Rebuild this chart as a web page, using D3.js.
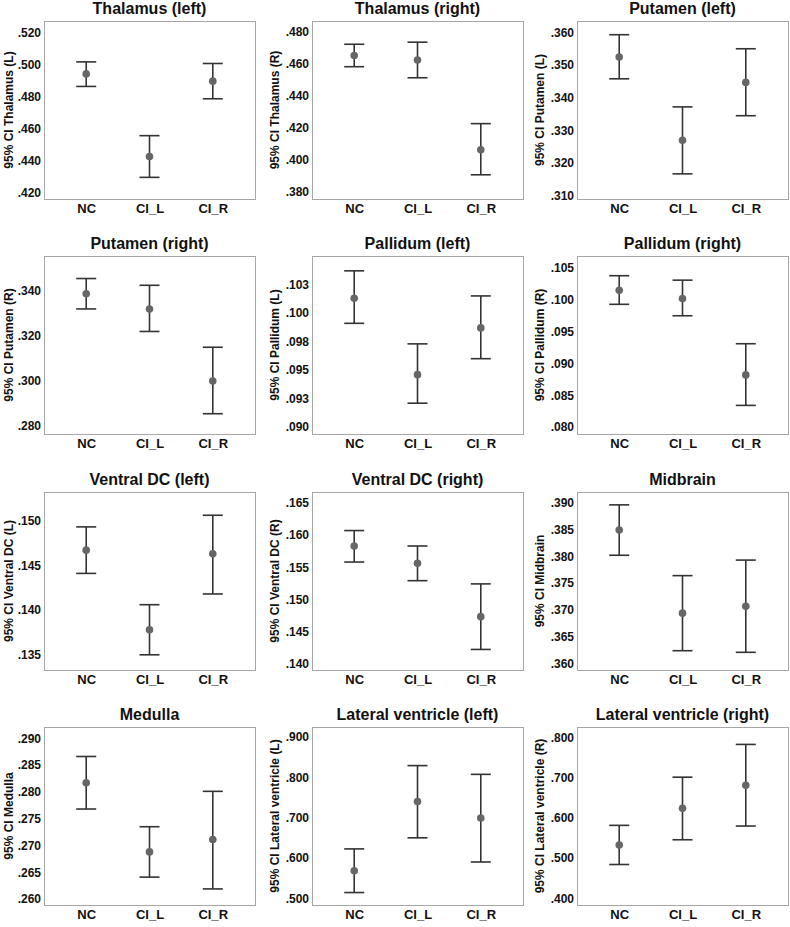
<!DOCTYPE html>
<html>
<head>
<meta charset="utf-8">
<script src="https://cdn.jsdelivr.net/npm/d3@7"></script>
<style>
  html, body { margin: 0; padding: 0; background: #fff; }
  svg { display: block; font-family: "Liberation Sans", Arial, sans-serif; }
  .tick text { font-weight: bold; fill: #111; }
</style>
</head>
<body>
<svg id="chart" width="790" height="927"></svg>
<script>
const categories = ["NC", "CI_L", "CI_R"];

const titles = [
  "Thalamus (left)", "Thalamus (right)", "Putamen (left)",
  "Putamen (right)", "Pallidum (left)", "Pallidum (right)",
  "Ventral DC (left)", "Ventral DC (right)", "Midbrain",
  "Medulla", "Lateral ventricle (left)", "Lateral ventricle (right)"
];

const yLabels = [
  "95% CI Thalamus (L)", "95% CI Thalamus (R)", "95% CI Putamen (L)",
  "95% CI Putamen (R)", "95% CI Pallidum (L)", "95% CI Pallidum (R)",
  "95% CI Ventral DC (L)", "95% CI Ventral DC (R)", "95% CI Midbrain",
  "95% CI Medulla", "95% CI Lateral ventricle (L)", "95% CI Lateral ventricle (R)"
];

// means per panel, for NC, CI_L, CI_R
const means = [
  [0.4940, 0.4425, 0.4895],
  [0.4650, 0.4622, 0.4062],
  [0.3525, 0.3270, 0.3447],
  [0.3387, 0.3320, 0.3000],
  [0.1013, 0.0946, 0.0987],
  [0.1015, 0.1002, 0.0882],
  [0.1467, 0.1378, 0.1463],
  [0.1583, 0.1556, 0.1473],
  [0.3849, 0.3694, 0.3707],
  [0.2817, 0.2688, 0.2711],
  [0.5683, 0.7400, 0.6992],
  [0.5325, 0.6242, 0.6817]
];

const lower = [
  [0.4862, 0.4295, 0.4785],
  [0.4580, 0.4511, 0.3906],
  [0.3458, 0.3167, 0.3345],
  [0.3320, 0.3220, 0.2855],
  [0.0991, 0.0921, 0.0960],
  [0.0993, 0.0975, 0.0834],
  [0.1441, 0.1350, 0.1418],
  [0.1558, 0.1529, 0.1422],
  [0.3802, 0.3624, 0.3621],
  [0.2768, 0.2641, 0.2619],
  [0.5142, 0.6500, 0.5900],
  [0.4842, 0.5458, 0.5800]
];

const upper = [
  [0.5015, 0.4555, 0.5005],
  [0.4720, 0.4733, 0.4225],
  [0.3593, 0.3372, 0.3550],
  [0.3455, 0.3425, 0.3150],
  [0.1037, 0.0973, 0.1015],
  [0.1038, 0.1031, 0.0931],
  [0.1493, 0.1406, 0.1506],
  [0.1607, 0.1583, 0.1524],
  [0.3896, 0.3764, 0.3793],
  [0.2866, 0.2735, 0.2801],
  [0.6225, 0.8292, 0.8075],
  [0.5817, 0.7017, 0.7833]
];

const yDomains = [
  [0.4160, 0.5270],
  [0.3755, 0.4865],
  [0.3090, 0.3635],
  [0.2765, 0.3555],
  [0.0894, 0.1050],
  [0.0789, 0.1069],
  [0.1333, 0.1532],
  [0.1390, 0.1667],
  [0.3588, 0.3920],
  [0.2589, 0.2921],
  [0.4833, 0.9250],
  [0.3833, 0.8267]
];

const tickValues = [
  [0.42, 0.44, 0.46, 0.48, 0.50, 0.52],
  [0.38, 0.40, 0.42, 0.44, 0.46, 0.48],
  [0.31, 0.32, 0.33, 0.34, 0.35, 0.36],
  [0.28, 0.30, 0.32, 0.34],
  [0.09, 0.0925, 0.095, 0.0975, 0.10, 0.1025],
  [0.080, 0.085, 0.090, 0.095, 0.100, 0.105],
  [0.135, 0.140, 0.145, 0.150],
  [0.140, 0.145, 0.150, 0.155, 0.160, 0.165],
  [0.360, 0.365, 0.370, 0.375, 0.380, 0.385, 0.390],
  [0.260, 0.265, 0.270, 0.275, 0.280, 0.285, 0.290],
  [0.5, 0.6, 0.7, 0.8, 0.9],
  [0.4, 0.5, 0.6, 0.7, 0.8]
];

const tickLabels = [
  [".420", ".440", ".460", ".480", ".500", ".520"],
  [".380", ".400", ".420", ".440", ".460", ".480"],
  [".310", ".320", ".330", ".340", ".350", ".360"],
  [".280", ".300", ".320", ".340"],
  [".090", ".093", ".095", ".098", ".100", ".103"],
  [".080", ".085", ".090", ".095", ".100", ".105"],
  [".135", ".140", ".145", ".150"],
  [".140", ".145", ".150", ".155", ".160", ".165"],
  [".360", ".365", ".370", ".375", ".380", ".385", ".390"],
  [".260", ".265", ".270", ".275", ".280", ".285", ".290"],
  [".500", ".600", ".700", ".800", ".900"],
  [".400", ".500", ".600", ".700", ".800"]
];

// layout
const colLeft = [44, 312, 577];
const rowTop = [21, 256, 492, 727];
const boxW = 211, boxH = 178;
const yLabelX = [9, 275, 540];

const svg = d3.select("#chart");

titles.forEach((title, i) => {
  const col = i % 3, row = Math.floor(i / 3);
  const x0 = colLeft[col], y0 = rowTop[row];
  const g = svg.append("g").attr("transform", `translate(${x0},${y0})`);

  const x = d3.scalePoint().domain(categories).range([0, boxW]).padding(0.667);
  const y = d3.scaleLinear().domain(yDomains[i]).range([boxH, 0]);

  // frame
  g.append("rect")
    .attr("x", 0.5).attr("y", 0.5)
    .attr("width", boxW).attr("height", boxH)
    .attr("fill", "#fff").attr("stroke", "#a6a6a6").attr("stroke-width", 1);

  // title
  g.append("text")
    .attr("x", boxW / 2).attr("y", -7)
    .attr("text-anchor", "middle")
    .attr("font-size", 16).attr("font-weight", "bold").attr("fill", "#111")
    .text(title);

  // y axis
  const yAxis = d3.axisLeft(y)
    .tickValues(tickValues[i])
    .tickFormat((d, k) => tickLabels[i][k])
    .tickSize(0).tickPadding(3);
  const ya = g.append("g").call(yAxis);
  ya.select(".domain").remove();
  ya.selectAll(".tick text").attr("font-size", 12);

  // x axis
  const xAxis = d3.axisBottom(x).tickSize(0).tickPadding(5);
  const xa = g.append("g").attr("transform", `translate(0,${boxH})`).call(xAxis);
  xa.select(".domain").remove();
  xa.selectAll(".tick text").attr("font-size", 13);

  // y label
  svg.append("text")
    .attr("transform", `translate(${yLabelX[col]},${y0 + boxH / 2}) rotate(-90)`)
    .attr("text-anchor", "middle").attr("dominant-baseline", "central")
    .attr("font-size", 12).attr("font-weight", "bold").attr("fill", "#111")
    .text(yLabels[i]);

  // error bars
  const capHalf = 10;
  const bars = g.selectAll(".eb").data(categories).enter().append("g");
  bars.append("line")
    .attr("x1", d => x(d)).attr("x2", d => x(d))
    .attr("y1", (d, k) => y(upper[i][k])).attr("y2", (d, k) => y(lower[i][k]))
    .attr("stroke", "#333").attr("stroke-width", 1.6);
  bars.append("line")
    .attr("x1", d => x(d) - capHalf).attr("x2", d => x(d) + capHalf)
    .attr("y1", (d, k) => y(upper[i][k])).attr("y2", (d, k) => y(upper[i][k]))
    .attr("stroke", "#333").attr("stroke-width", 1.6);
  bars.append("line")
    .attr("x1", d => x(d) - capHalf).attr("x2", d => x(d) + capHalf)
    .attr("y1", (d, k) => y(lower[i][k])).attr("y2", (d, k) => y(lower[i][k]))
    .attr("stroke", "#333").attr("stroke-width", 1.6);
  bars.append("circle")
    .attr("cx", d => x(d)).attr("cy", (d, k) => y(means[i][k]))
    .attr("r", 3.8).attr("fill", "#666");
});
</script>
</body>
</html>
